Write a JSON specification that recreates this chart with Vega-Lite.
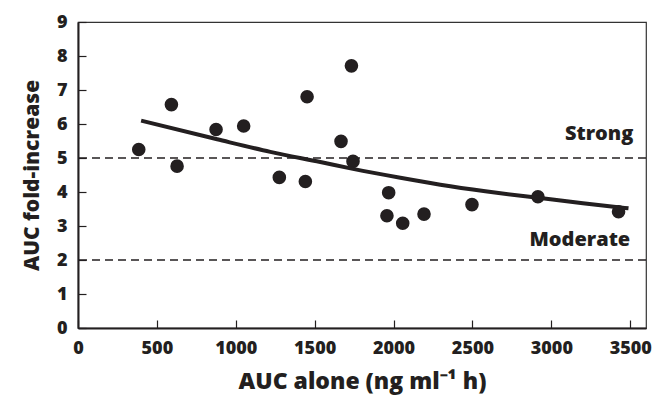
{
  "$schema": "https://vega.github.io/schema/vega-lite/v6.json",
  "autosize": "none",
  "width": 568,
  "height": 306,
  "padding": {"left": 78, "top": 22, "right": 10, "bottom": 68},
  "config": {
    "font": "Open Sans",
    "view": {"stroke": "#333333", "strokeWidth": 1.2},
    "axis": {
      "labelFont": "Open Sans", "labelFontWeight": 800, "labelFontSize": 18, "labelColor": "#231f20",
      "titleFont": "Open Sans", "titleFontWeight": 800, "titleFontSize": 21, "titleColor": "#231f20",
      "domainColor": "#231f20", "domainWidth": 2, "tickColor": "#231f20", "tickWidth": 1.2,
      "grid": false, "labelOverlap": false, "labelFlush": false
    }
  },
  "datasets": {
    "points": [
      {"auc": 385, "fold": 5.25},
      {"auc": 592, "fold": 6.57},
      {"auc": 628, "fold": 4.76},
      {"auc": 875, "fold": 5.84},
      {"auc": 1050, "fold": 5.94},
      {"auc": 1276, "fold": 4.43},
      {"auc": 1441, "fold": 4.31},
      {"auc": 1452, "fold": 6.80},
      {"auc": 1667, "fold": 5.49},
      {"auc": 1733, "fold": 7.71},
      {"auc": 1743, "fold": 4.90},
      {"auc": 1969, "fold": 3.98},
      {"auc": 1958, "fold": 3.30},
      {"auc": 2058, "fold": 3.08},
      {"auc": 2193, "fold": 3.35},
      {"auc": 2497, "fold": 3.63},
      {"auc": 2915, "fold": 3.86},
      {"auc": 3426, "fold": 3.42}
    ],
    "curve": [
      {"auc": 400, "fold": 6.10},
      {"auc": 882, "fold": 5.55},
      {"auc": 1219, "fold": 5.18},
      {"auc": 1536, "fold": 4.88},
      {"auc": 1743, "fold": 4.68},
      {"auc": 2043, "fold": 4.42},
      {"auc": 2360, "fold": 4.17},
      {"auc": 2666, "fold": 3.97},
      {"auc": 2915, "fold": 3.83},
      {"auc": 3200, "fold": 3.67},
      {"auc": 3489, "fold": 3.52}
    ],
    "refs": [{"fold": 5}, {"fold": 2}],
    "labels": [
      {"auc": 3520, "fold": 5.53, "label": "Strong"},
      {"auc": 3500, "fold": 2.4, "label": "Moderate"}
    ]
  },
  "encoding": {
    "y": {"field": "fold", "type": "quantitative", "scale": {"domain": [0, 9], "nice": false, "zero": true},
          "axis": {"values": [0, 1, 2, 3, 4, 5, 6, 7, 8, 9], "tickCount": 10, "tickSize": -8, "labelPadding": 19,
                   "title": "AUC fold-increase", "titlePadding": 14}}
  },
  "layer": [
    {
      "data": {"name": "refs"},
      "mark": {"type": "rule", "strokeDash": [8, 5], "strokeWidth": 1.5, "color": "#231f20"}
    },
    {
      "data": {"name": "points"},
      "mark": {"type": "circle", "size": 185, "color": "#231f20", "opacity": 1},
      "encoding": {
        "x": {"field": "auc", "type": "quantitative", "scale": {"domain": [0, 3600], "nice": false},
              "axis": {"values": [0, 500, 1000, 1500, 2000, 2500, 3000, 3500], "format": "d", "tickSize": -8, "labelPadding": 19,
                       "title": "AUC alone (ng ml⁻¹ h)", "titleFontSize": 23, "titlePadding": 13}}
      }
    },
    {
      "data": {"name": "curve"},
      "mark": {"type": "line", "color": "#231f20", "strokeWidth": 4, "interpolate": "monotone"},
      "encoding": {
        "x": {"field": "auc", "type": "quantitative"}
      }
    },
    {
      "data": {"name": "labels"},
      "mark": {"type": "text", "align": "right", "baseline": "alphabetic", "fontSize": 20, "fontWeight": 800, "font": "Open Sans", "color": "#231f20"},
      "encoding": {
        "x": {"field": "auc", "type": "quantitative"},
        "text": {"field": "label"}
      }
    }
  ]
}
